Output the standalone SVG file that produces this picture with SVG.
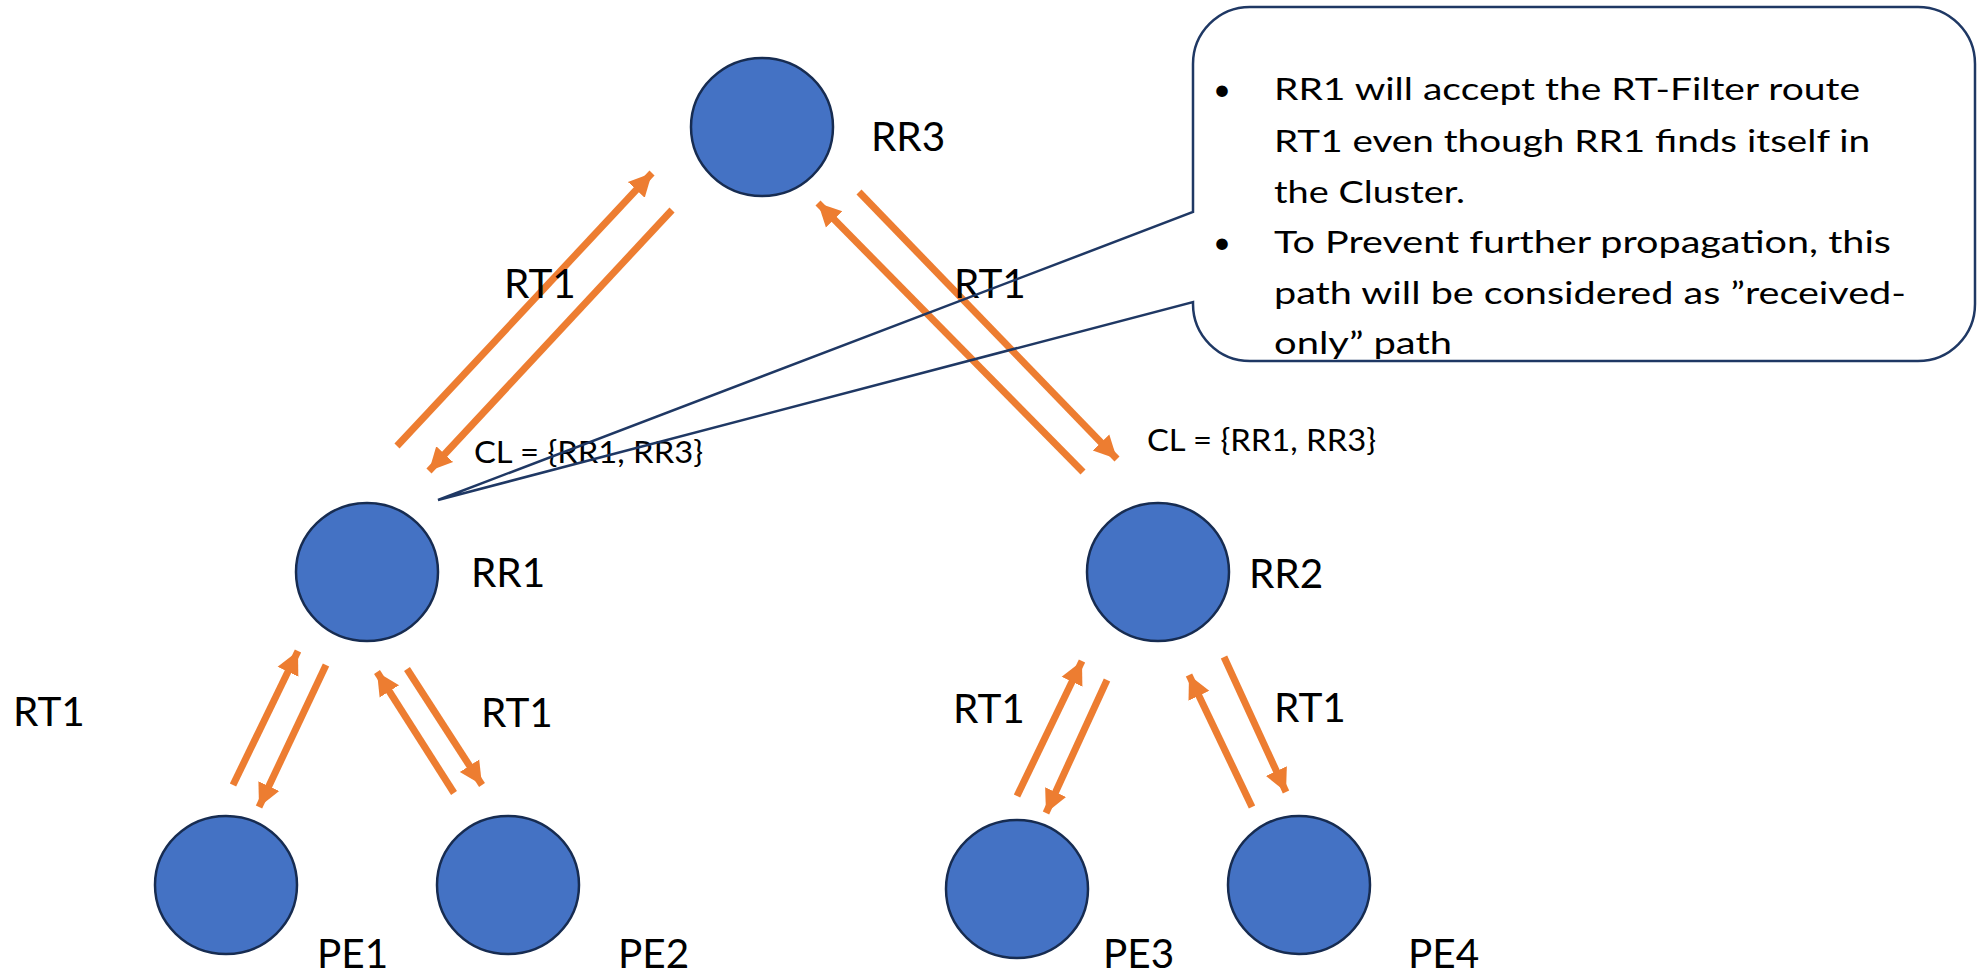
<svg xmlns="http://www.w3.org/2000/svg" width="1985" height="974" viewBox="0 0 1985 974">
  <style>
    .node { fill: #4472C4; stroke: #172C51; stroke-width: 2.5; }
    .lbl { font-family: Lato, "Open Sans", sans-serif; font-size: 40.5px; fill: #000; }
    .cl { font-family: Lato, "Open Sans", sans-serif; font-size: 31px; fill: #000; }
    .note { font-family: Lato, "Open Sans", sans-serif; font-size: 31px; fill: #000; }
    .arrow { fill: none; stroke: #ED7D31; stroke-width: 7; marker-end: url(#head); }
    .callout { fill: none; stroke: #1F3864; stroke-width: 2.5; stroke-linejoin: miter; }
  </style>
  <defs>
    <marker id="head" markerUnits="userSpaceOnUse" markerWidth="28" markerHeight="28" viewBox="0 0 28 28" refX="23" refY="14" orient="auto">
      <path d="M0,2.5 L23,14 L0,25.5 Z" fill="#ED7D31"/>
    </marker>
  </defs>

  <rect width="1985" height="974" fill="#fff"/>

  <!-- route-target advertisements between reflectors and PEs -->
  <g id="connectors">
    <path class="arrow" d="M397,446 L652,173"/>
    <path class="arrow" d="M672,210 L429,471"/>
    <path class="arrow" d="M1083,472 L818,203"/>
    <path class="arrow" d="M859,192 L1117,459"/>
    <path class="arrow" d="M233,785 L298,651"/>
    <path class="arrow" d="M326,665 L259,807"/>
    <path class="arrow" d="M454,793 L377,672"/>
    <path class="arrow" d="M407,669 L482,785"/>
    <path class="arrow" d="M1017,796 L1082,661"/>
    <path class="arrow" d="M1107,680 L1046,813"/>
    <path class="arrow" d="M1252,807 L1189,675"/>
    <path class="arrow" d="M1224,657 L1286,792"/>
  </g>

  <g id="rr3">
    <ellipse class="node" cx="762" cy="127" rx="71" ry="69"/>
    <text class="lbl" x="871" y="151">RR3</text>
  </g>
  <g id="rr1">
    <ellipse class="node" cx="367" cy="572" rx="71" ry="69"/>
    <text class="lbl" x="471" y="587">RR1</text>
  </g>
  <g id="rr2">
    <ellipse class="node" cx="1158" cy="572" rx="71" ry="69"/>
    <text class="lbl" x="1249" y="588">RR2</text>
  </g>
  <g id="pe1">
    <ellipse class="node" cx="226" cy="885" rx="71" ry="69"/>
    <text class="lbl" x="317" y="968">PE1</text>
  </g>
  <g id="pe2">
    <ellipse class="node" cx="508" cy="885" rx="71" ry="69"/>
    <text class="lbl" x="618" y="968">PE2</text>
  </g>
  <g id="pe3">
    <ellipse class="node" cx="1017" cy="889" rx="71" ry="69"/>
    <text class="lbl" x="1103" y="968">PE3</text>
  </g>
  <g id="pe4">
    <ellipse class="node" cx="1299" cy="885" rx="71" ry="69"/>
    <text class="lbl" x="1408" y="968">PE4</text>
  </g>

  <!-- edge labels -->
  <g id="labels">
    <text class="lbl" x="504" y="298">RT1</text>
    <text class="lbl" x="954" y="298">RT1</text>
    <text class="lbl" x="13" y="726">RT1</text>
    <text class="lbl" x="481" y="727">RT1</text>
    <text class="lbl" x="953" y="723">RT1</text>
    <text class="lbl" x="1274" y="722">RT1</text>
    <text class="cl" x="474" y="463" textLength="229" lengthAdjust="spacingAndGlyphs">CL = {RR1, RR3}</text>
    <text class="cl" x="1147" y="451" textLength="229" lengthAdjust="spacingAndGlyphs">CL = {RR1, RR3}</text>
  </g>

  <!-- callout pointing at RR1 -->
  <g id="note">
    <path class="callout" d="M1250,7 H1918 A57,57 0 0 1 1975,64 V304 A57,57 0 0 1 1918,361 H1250 A57,57 0 0 1 1193,304 V302 L438,500 L1193,212 V64 A57,57 0 0 1 1250,7 Z"/>
    <text class="note" x="1213" y="100">•</text>
    <text class="note" x="1274" y="100" textLength="586" lengthAdjust="spacingAndGlyphs">RR1 will accept the RT-Filter route</text>
    <text class="note" x="1274" y="152" textLength="596" lengthAdjust="spacingAndGlyphs">RT1 even though RR1 finds itself in</text>
    <text class="note" x="1274" y="203" textLength="191" lengthAdjust="spacingAndGlyphs">the Cluster.</text>
    <text class="note" x="1213" y="253">•</text>
    <text class="note" x="1274" y="253" textLength="617" lengthAdjust="spacingAndGlyphs">To Prevent further propagation, this</text>
    <text class="note" x="1274" y="304" textLength="632" lengthAdjust="spacingAndGlyphs">path will be considered as ”received-</text>
    <text class="note" x="1274" y="354" textLength="178" lengthAdjust="spacingAndGlyphs">only” path</text>
  </g>
</svg>
